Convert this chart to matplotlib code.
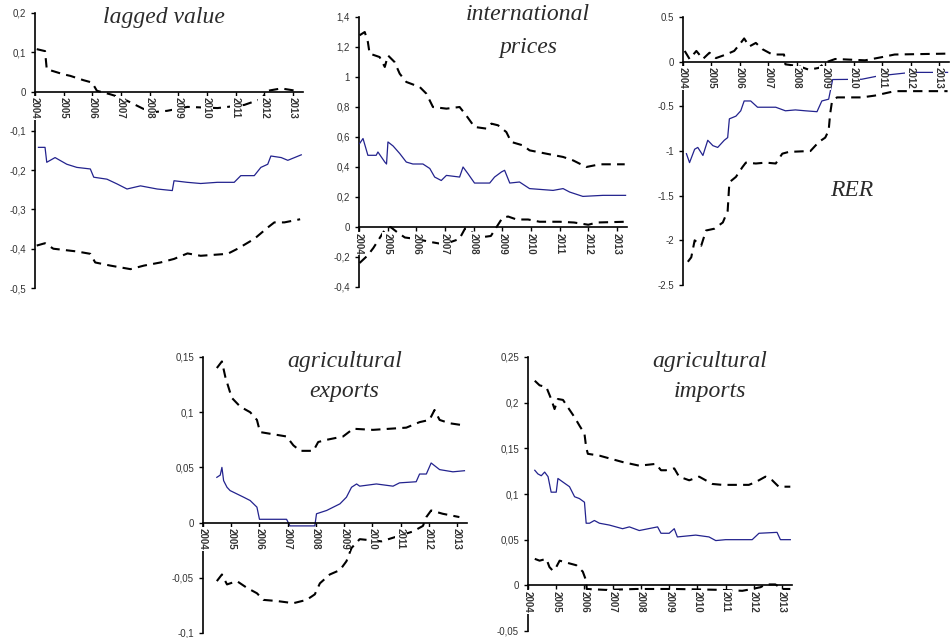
import matplotlib
matplotlib.use("Agg")
import matplotlib.pyplot as plt

# ----- datos -----
years = [2004, 2005, 2006, 2007, 2008, 2009, 2010, 2011, 2012, 2013]
year_labels = [str(y) for y in years]

# lagged value
lag_x_mid = [2004.12, 2004.35, 2004.41, 2004.7, 2005.11, 2005.46, 2005.93, 2006.05, 2006.51, 2006.86,
             2007.21, 2007.68, 2008.26, 2008.79, 2008.85, 2009.31, 2009.78, 2010.36, 2010.95, 2011.18,
             2011.65, 2011.88, 2012.12, 2012.23, 2012.59, 2012.82, 2013.29]
lag_mid = [-0.142, -0.142, -0.18, -0.168, -0.185, -0.193, -0.197, -0.218, -0.223, -0.235,
           -0.248, -0.24, -0.248, -0.252, -0.227, -0.231, -0.234, -0.231, -0.231, -0.214,
           -0.214, -0.193, -0.185, -0.164, -0.168, -0.175, -0.161]
lag_x_up = [2004.06, 2004.35, 2004.41, 2004.99, 2005.23, 2005.69, 2005.99, 2006.16, 2006.63, 2006.98,
            2007.45, 2008.03, 2008.61, 2009.32, 2010.37, 2011.3, 2011.89, 2012.12, 2012.59, 2013.11]
lag_up = [0.108, 0.103, 0.057, 0.044, 0.04, 0.029, 0.023, 0.002, -0.007, -0.015,
          -0.032, -0.053, -0.049, -0.039, -0.042, -0.034, -0.019, 0.002, 0.008, 0.002]
lag_x_lo = [2004.06, 2004.35, 2004.64, 2005.46, 2005.93, 2006.1, 2006.63, 2007.33, 2007.8, 2008.38,
            2008.85, 2009.32, 2009.78, 2010.72, 2011.07, 2011.65, 2012.12, 2012.35, 2012.7, 2013.25]
lag_lo = [-0.392, -0.386, -0.40, -0.407, -0.413, -0.435, -0.443, -0.452, -0.443, -0.435,
          -0.426, -0.412, -0.418, -0.413, -0.40, -0.375, -0.346, -0.333, -0.333, -0.325]

# international prices
ip_x_mid = [2004.02, 2004.14, 2004.31, 2004.6, 2004.66, 2004.9, 2004.96, 2005.01, 2005.19, 2005.42,
            2005.65, 2005.88, 2006.23, 2006.47, 2006.64, 2006.87, 2007.05, 2007.51, 2007.63, 2007.8,
            2008.03, 2008.56, 2008.73, 2008.97, 2009.08, 2009.26, 2009.6, 2009.95, 2010.77, 2011.12,
            2011.35, 2011.81, 2012.51, 2013.3]
ip_mid = [0.556, 0.59, 0.478, 0.478, 0.5, 0.433, 0.42, 0.567, 0.54, 0.49,
          0.433, 0.42, 0.42, 0.39, 0.333, 0.31, 0.344, 0.333, 0.4, 0.356,
          0.293, 0.293, 0.333, 0.367, 0.378, 0.293, 0.3, 0.256, 0.244, 0.256,
          0.233, 0.204, 0.211, 0.211]
ip_x_up = [2004.02, 2004.2, 2004.31, 2004.37, 2004.72, 2004.9, 2005.01, 2005.24, 2005.42, 2005.65,
           2006.12, 2006.35, 2006.58, 2007.05, 2007.51, 2007.74, 2008.03, 2008.44, 2008.62, 2008.85,
           2009.14, 2009.31, 2009.72, 2009.95, 2010.53, 2011.12, 2011.47, 2011.93, 2012.4, 2013.27]
ip_up = [1.278, 1.3, 1.233, 1.156, 1.133, 1.067, 1.144, 1.1, 1.022, 0.967,
         0.933, 0.889, 0.8, 0.789, 0.8, 0.744, 0.667, 0.656, 0.689, 0.678,
         0.633, 0.567, 0.544, 0.511, 0.489, 0.467, 0.444, 0.4, 0.418, 0.418]
ip_x_lo = [2004.02, 2004.3, 2004.5, 2004.9, 2005.1, 2005.3, 2005.6, 2006.0, 2006.5, 2006.8,
           2007.2, 2007.5, 2007.7, 2007.9, 2008.2, 2008.6, 2008.8, 2009.0, 2009.2, 2009.5,
           2009.9, 2010.3, 2011.0, 2011.5, 2012.0, 2012.3, 2013.3]
ip_lo = [-0.24, -0.19, -0.14, -0.02, 0.0, -0.03, -0.07, -0.08, -0.1, -0.11,
         -0.1, -0.08, -0.01, -0.03, -0.07, -0.06, 0.0, 0.06, 0.07, 0.05,
         0.05, 0.035, 0.035, 0.03, 0.015, 0.03, 0.035]

# RER
rer_x_mid = [2004.12, 2004.23, 2004.41, 2004.52, 2004.7, 2004.87, 2005.05, 2005.22, 2005.45, 2005.57,
             2005.63, 2005.86, 2006.03, 2006.15, 2006.38, 2006.62, 2007.26, 2007.6, 2007.95, 2008.3,
             2008.71, 2008.88, 2009.12, 2009.26, 2010.28, 2010.86, 2012.02, 2013.3]
rer_mid = [-1.03, -1.13, -0.98, -0.96, -1.05, -0.88, -0.94, -0.96, -0.88, -0.85,
           -0.64, -0.61, -0.55, -0.44, -0.44, -0.51, -0.51, -0.55, -0.54, -0.55,
           -0.56, -0.44, -0.42, -0.2, -0.197, -0.16, -0.12, -0.12]
rer_x_up = [2004.06, 2004.23, 2004.47, 2004.7, 2004.93, 2005.16, 2005.51, 2005.8, 2006.03, 2006.15,
            2006.33, 2006.56, 2006.79, 2007.14, 2007.55, 2007.6, 2008.07, 2008.42, 2008.77, 2009.0,
            2009.35, 2010.4, 2010.98, 2011.44, 2013.3]
rer_up = [0.12, 0.03, 0.12, 0.03, 0.1, 0.04, 0.08, 0.12, 0.21, 0.26,
          0.17, 0.21, 0.14, 0.08, 0.08, -0.03, -0.05, -0.09, -0.07, -0.01,
          0.03, 0.015, 0.05, 0.08, 0.09]
rer_x_lo = [2004.17, 2004.29, 2004.41, 2004.64, 2004.81, 2005.1, 2005.4, 2005.57, 2005.63, 2005.86,
            2006.09, 2006.21, 2006.56, 2006.91, 2007.26, 2007.49, 2007.72, 2008.48, 2008.77, 2009.0,
            2009.12, 2009.17, 2009.23, 2009.41, 2010.28, 2010.74, 2011.44, 2013.3]
rer_lo = [-2.24, -2.19, -2.0, -2.06, -1.89, -1.87, -1.8, -1.67, -1.35, -1.29,
          -1.18, -1.13, -1.14, -1.13, -1.14, -1.03, -1.01, -1.0, -0.9, -0.85,
          -0.77, -0.59, -0.46, -0.4, -0.4, -0.38, -0.33, -0.33]

# agricultural exports
ex_x_mid = [2004.49, 2004.61, 2004.67, 2004.73, 2004.85, 2004.96, 2005.2, 2005.44, 2005.67, 2005.91,
            2006.0, 2006.96, 2007.08, 2007.96, 2008.02, 2008.38, 2008.85, 2009.08, 2009.26, 2009.44,
            2009.55, 2010.14, 2010.73, 2010.96, 2011.55, 2011.67, 2011.91, 2012.08, 2012.38, 2012.85,
            2013.26]
ex_mid = [0.041, 0.043, 0.05, 0.038, 0.032, 0.029, 0.026, 0.023, 0.02, 0.014,
          0.003, 0.003, -0.003, -0.003, 0.008, 0.011, 0.017, 0.023, 0.032, 0.035,
          0.033, 0.035, 0.033, 0.036, 0.037, 0.044, 0.044, 0.054, 0.048, 0.046,
          0.047]
ex_x_up = [2004.49, 2004.67, 2004.79, 2004.91, 2005.02, 2005.32, 2005.67, 2005.91, 2006.02, 2006.96,
           2007.2, 2007.44, 2007.91, 2008.08, 2008.38, 2008.96, 2009.32, 2010.02, 2011.2, 2011.67,
           2012.02, 2012.2, 2012.38, 2012.73, 2013.26]
ex_up = [0.14, 0.146, 0.132, 0.122, 0.113, 0.105, 0.1, 0.093, 0.082, 0.078,
         0.07, 0.065, 0.065, 0.073, 0.075, 0.078, 0.085, 0.084, 0.086, 0.091,
         0.093, 0.102, 0.093, 0.09, 0.088]
ex_x_lo = [2004.49, 2004.67, 2004.85, 2005.2, 2005.55, 2005.91, 2006.14, 2006.61, 2007.2, 2007.67,
           2007.96, 2008.14, 2008.49, 2008.85, 2009.08, 2009.26, 2009.55, 2010.32, 2011.44, 2011.79,
           2011.91, 2012.08, 2012.49, 2013.08]
ex_lo = [-0.053, -0.047, -0.056, -0.053, -0.059, -0.064, -0.07, -0.071, -0.073, -0.07,
         -0.065, -0.055, -0.047, -0.043, -0.035, -0.023, -0.015, -0.017, -0.008, -0.003,
         0.005, 0.011, 0.008, 0.005]

# agricultural imports
im_x_mid = [2004.24, 2004.35, 2004.47, 2004.59, 2004.71, 2004.82, 2005.0, 2005.06, 2005.24, 2005.47,
            2005.65, 2005.82, 2006.0, 2006.06, 2006.18, 2006.35, 2006.53, 2006.88, 2007.35, 2007.59,
            2007.94, 2008.59, 2008.71, 2009.0, 2009.18, 2009.29, 2009.94, 2010.41, 2010.65, 2011.0,
            2011.94, 2012.18, 2012.82, 2012.94, 2013.29]
im_mid = [0.126, 0.122, 0.12, 0.124, 0.119, 0.102, 0.102, 0.117, 0.113, 0.108,
          0.097, 0.095, 0.091, 0.068, 0.068, 0.071, 0.068, 0.066, 0.062, 0.064,
          0.06, 0.064, 0.057, 0.057, 0.062, 0.053, 0.055, 0.053, 0.049, 0.05,
          0.05, 0.057, 0.058, 0.05, 0.05]
im_x_up = [2004.24, 2004.41, 2004.65, 2004.82, 2004.94, 2005.06, 2005.24, 2005.41, 2005.65, 2005.82,
           2006.0, 2006.06, 2006.12, 2006.53, 2006.88, 2007.35, 2007.94, 2008.53, 2008.71, 2008.88,
           2009.18, 2009.35, 2009.71, 2010.06, 2010.53, 2010.88, 2011.82, 2012.06, 2012.41, 2012.65,
           2012.88, 2013.29]
im_up = [0.224, 0.219, 0.217, 0.204, 0.193, 0.204, 0.203, 0.195, 0.184, 0.175,
         0.166, 0.151, 0.144, 0.142, 0.139, 0.135, 0.131, 0.133, 0.126, 0.126,
         0.128, 0.119, 0.115, 0.119, 0.111, 0.11, 0.11, 0.113, 0.119, 0.115,
         0.108, 0.108]
im_x_lo = [2004.24, 2004.41, 2004.65, 2004.76, 2004.88, 2005.0, 2005.12, 2005.47, 2005.71, 2005.94,
           2006.06, 2006.08, 2006.76, 2007.82, 2009.24, 2010.88, 2011.59, 2011.94, 2012.24, 2012.41,
           2012.76, 2013.0, 2013.29]
im_lo = [0.029, 0.027, 0.029, 0.02, 0.016, 0.02, 0.027, 0.024, 0.022, 0.015,
         0.005, -0.004, -0.005, -0.004, -0.004, -0.005, -0.006, -0.004, -0.002, 0.001,
         0.001, -0.004, -0.004]

# ejes y
lag_ticks = [0.2, 0.1, 0, -0.1, -0.2, -0.3, -0.4, -0.5]
lag_labels = ["0,2", "0,1", "0", "-0,1", "-0,2", "-0,3", "-0,4", "-0,5"]
ip_ticks = [1.4, 1.2, 1.0, 0.8, 0.6, 0.4, 0.2, 0, -0.2, -0.4]
ip_labels = ["1,4", "1,2", "1", "0,8", "0,6", "0,4", "0,2", "0", "-0,2", "-0,4"]
rer_ticks = [0.5, 0, -0.5, -1, -1.5, -2, -2.5]
rer_labels = ["0.5", "0", "-0.5", "-1", "-1.5", "-2", "-2.5"]
ex_ticks = [0.15, 0.1, 0.05, 0, -0.05, -0.1]
ex_labels = ["0,15", "0,1", "0,05", "0", "-0,05", "-0,1"]
im_ticks = [0.25, 0.2, 0.15, 0.1, 0.05, 0, -0.05]
im_labels = ["0,25", "0,2", "0,15", "0,1", "0,05", "0", "-0,05"]

# ----- figura -----
W, H = 950, 638
fig = plt.figure(figsize=(W / 100, H / 100), dpi=100)

BLUE = "#23238e"
TXT = "#333333"
DASH = (0, (4.5, 3))


def panel(box, ticks, labels, series):
    l, t, r, b = box
    ax = fig.add_axes([l / W, 1 - b / H, (r - l) / W, (b - t) / H])
    ax.set_xlim(2004, 2013.35)
    ax.set_ylim(ticks[-1], ticks[0])
    for s in ["top", "right"]:
        ax.spines[s].set_visible(False)
    ax.spines["bottom"].set_position(("data", 0))
    ax.spines["left"].set_zorder(1)
    ax.spines["left"].set_linewidth(1.2)
    ax.spines["bottom"].set_linewidth(1.2)
    ax.set_axisbelow(False)
    ax.set_yticks(ticks)
    ax.set_yticklabels(labels, fontsize=7, color=TXT, family="Liberation Sans")
    ax.set_xticks(years)
    ax.set_xticklabels(year_labels, rotation=-90, fontsize=7, fontweight="bold",
                       color=TXT, family="Liberation Sans", va="top", ha="center")
    for lab in ax.get_xticklabels():
        lab.set_bbox(dict(facecolor="white", edgecolor="none", pad=0.6))
    ax.tick_params(axis="both", direction="out", length=3, width=1)
    ax.tick_params(axis="x", pad=1)
    (xm, ym), (xu, yu), (xl, yl) = series
    ax.plot(xm, ym, color=BLUE, lw=0.9, zorder=2)
    ax.plot(xu, yu, color="black", lw=1.5, ls=DASH, zorder=2)
    ax.plot(xl, yl, color="black", lw=1.5, ls=DASH, zorder=2)
    ax.patch.set_alpha(0)
    return ax


panel((35, 13, 303, 288), lag_ticks, lag_labels,
      [(lag_x_mid, lag_mid), (lag_x_up, lag_up), (lag_x_lo, lag_lo)])
panel((359, 17, 627, 287), ip_ticks, ip_labels,
      [(ip_x_mid, ip_mid), (ip_x_up, ip_up), (ip_x_lo, ip_lo)])
panel((683, 17, 949, 285), rer_ticks, rer_labels,
      [(rer_x_mid, rer_mid), (rer_x_up, rer_up), (rer_x_lo, rer_lo)])
panel((203, 357, 467, 633), ex_ticks, ex_labels,
      [(ex_x_mid, ex_mid), (ex_x_up, ex_up), (ex_x_lo, ex_lo)])
panel((528, 357, 792, 631), im_ticks, im_labels,
      [(im_x_mid, im_mid), (im_x_up, im_up), (im_x_lo, im_lo)])

# títulos
titulos = [("lagged value", 164, 17), ("international", 528, 15), ("prices", 528, 48),
           ("RER", 852, 190), ("agricultural", 345, 362), ("exports", 344, 392),
           ("agricultural", 710, 362), ("imports", 710, 392)]
for txt, px, py in titulos:
    fig.text(px / W, 1 - py / H, txt, ha="center", va="center", fontsize=17,
             style="italic", family="Liberation Serif", color="#2b2b2b")

fig.savefig("out.png", dpi=100)
